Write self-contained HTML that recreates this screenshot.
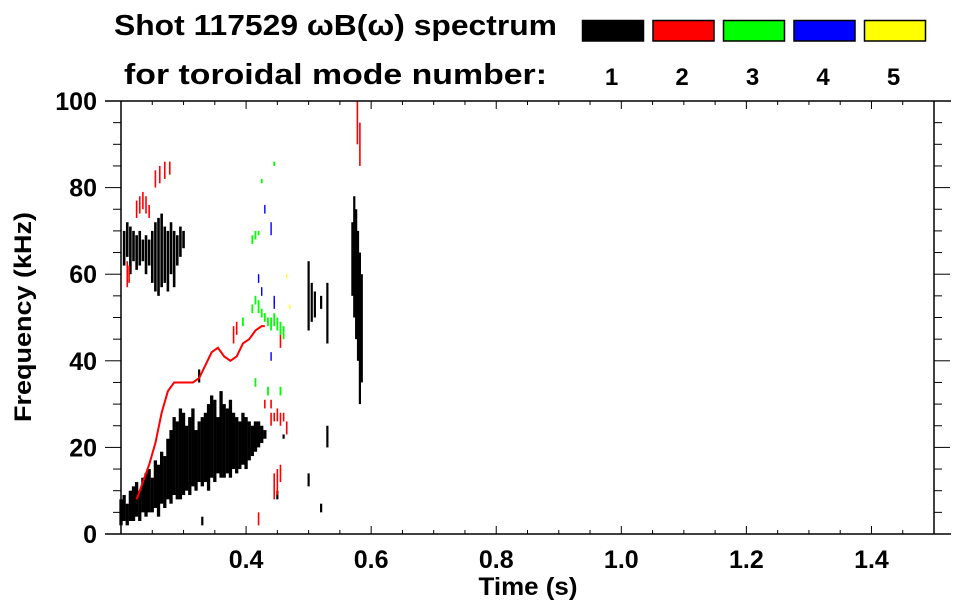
<!DOCTYPE html>
<html><head><meta charset="utf-8"><style>
html,body{margin:0;padding:0;background:#fff;}
svg{display:block;font-family:"Liberation Sans",Arial,sans-serif;font-weight:bold;}
</style></head><body>
<svg id="chart" width="963" height="615" viewBox="0 0 963 615" xmlns="http://www.w3.org/2000/svg">
<text x="114" y="35" font-size="29" textLength="443" lengthAdjust="spacingAndGlyphs">Shot 117529 ωB(ω) spectrum</text>
<text x="124" y="84" font-size="29" textLength="423" lengthAdjust="spacingAndGlyphs">for toroidal mode number:</text>
<g id="legend"></g>
<g id="marks"></g>
<g id="axes"></g>
<text transform="translate(31,317) rotate(-90)" text-anchor="middle" font-size="24" textLength="210" lengthAdjust="spacingAndGlyphs">Frequency (kHz)</text>
<text x="528" y="595" text-anchor="middle" font-size="25" textLength="99" lengthAdjust="spacingAndGlyphs">Time (s)</text>
</svg>
<script>
// ---- data ----
var modeNumbers = [1,2,3,4,5];
var modeColors = ["#000000","#ff0000","#00ff00","#0000ff","#ffff00"];
var xTicks = [0.4,0.6,0.8,1.0,1.2,1.4];
var xTickLabels = ["0.4","0.6","0.8","1.0","1.2","1.4"];
var yTicks = [0,20,40,60,80,100];
var yTickLabels = ["0","20","40","60","80","100"];

// mode 1 low band (time s, freq low/high kHz)
var n1LowT = [0.200,0.205,0.210,0.215,0.220,0.225,0.230,0.235,0.240,0.245,0.250,0.255,0.260,0.265,0.270,0.275,0.280,0.285,0.290,0.295,0.300,0.305,0.310,0.315,0.320,0.325,0.330,0.335,0.340,0.345,0.350,0.355,0.360,0.365,0.370,0.375,0.380,0.385,0.390,0.395,0.400,0.405,0.410,0.415,0.420,0.425,0.430];
var n1LowLo = [2,3,2,3,3,4,3,5,4,5,5,6,4,7,6,8,7,9,8,8,9,10,9,11,10,12,11,12,10,13,12,14,13,13,14,13,15,14,15,16,15,17,18,19,20,21,22];
var n1LowHi = [8,9,7,10,11,12,10,13,14,15,13,17,16,19,18,22,24,27,26,29,28,25,27,29,24,26,27,28,30,32,31,27,33,30,29,31,28,27,26,28,27,26,25,26,26,25,24];
// mode 1 upper cluster
var n1UpT = [0.205,0.210,0.215,0.220,0.225,0.230,0.235,0.240,0.245,0.250,0.255,0.260,0.265,0.270,0.275,0.280,0.285,0.290,0.295,0.300];
var n1UpLo = [62,64,60,63,61,62,63,60,62,58,56,55,57,58,56,60,57,62,64,66];
var n1UpHi = [70,72,71,70,69,70,68,69,68,70,72,73,74,71,70,72,70,69,71,70];
// mode 1 later bursts
var n1LateT = [0.500,0.505,0.510,0.520,0.530,0.530,0.570,0.573,0.576,0.579,0.582,0.585,0.500,0.520,0.460,0.450,0.330,0.325];
var n1LateLo = [47,49,50,52,44,20,55,50,45,40,30,35,11,5,22,8,2,35];
var n1LateHi = [63,58,56,55,58,25,72,78,75,70,65,60,14,7,23,10,4,38];

// mode 2 main chirping line
var n2LineT = [0.225,0.235,0.245,0.255,0.265,0.275,0.285,0.300,0.315,0.325,0.335,0.345,0.355,0.365,0.375,0.385,0.395,0.405,0.415,0.425,0.430];
var n2LineF = [8,12,16,21,28,33,35,35,35,36,39,42,43,41,40,41,44,45,47,48,48];
// mode 2 blobs
var n2BlobT = [0.210,0.213,0.225,0.230,0.235,0.240,0.245,0.255,0.262,0.270,0.278,0.440,0.445,0.450,0.455,0.460,0.465,0.445,0.450,0.455,0.420,0.578,0.582,0.385,0.380,0.430,0.440,0.455];
var n2BlobLo = [57,58,73,74,75,74,73,80,81,82,83,25,26,26,25,26,23,8,9,12,2,90,85,46,44,29,29,43];
var n2BlobHi = [63,62,77,78,79,78,76,84,85,86,86,28,28,29,28,28,26,14,15,16,5,100,95,49,48,31,31,46];
// mode 3
var n3T = [0.410,0.415,0.420,0.410,0.415,0.420,0.425,0.430,0.435,0.440,0.445,0.450,0.455,0.460,0.445,0.425,0.415,0.435,0.455,0.395];
var n3Lo = [67,68,69,51,53,51,50,49,48,47,48,47,46,45,85,81,34,32,32,48];
var n3Hi = [69,70,70,53,55,54,52,51,50,50,51,50,49,48,86,82,36,34,34,50];
// mode 4
var n4T = [0.430,0.440,0.445,0.420,0.445,0.440,0.425];
var n4Lo = [74,69,53,58,52,40,55];
var n4Hi = [76,72,55,60,54,42,57];
// mode 5
var n5T = [0.465,0.470];
var n5Lo = [59,52];
var n5Hi = [60,53];

// ---- scales ----
var X0=121, X1=934, Y0=534, Y1=101, TMIN=0.2, TMAX=1.5, FMIN=0, FMAX=100;
function xs(t){return X0+(t-TMIN)/(TMAX-TMIN)*(X1-X0);}
function ys(f){return Y0-(f-FMIN)/(FMAX-FMIN)*(Y0-Y1);}
var NS="http://www.w3.org/2000/svg";
function mk(tag,attrs,parent){var e=document.createElementNS(NS,tag);for(var k in attrs)e.setAttribute(k,attrs[k]);parent.appendChild(e);return e;}

var marks=document.getElementById('marks');
function streaks(T,Lo,Hi,color,w,name){
  for(var i=0;i<T.length;i++){
    var r=mk('rect',{x:xs(T[i])-w/2,y:ys(Hi[i]),width:w,height:Math.max(1,ys(Lo[i])-ys(Hi[i])),fill:color},marks);
    
    
  }
}
streaks(n1LowT,n1LowLo,n1LowHi,modeColors[0],3.3,'mode1-low-band-streak');
streaks(n1UpT,n1UpLo,n1UpHi,modeColors[0],2.6,'mode1-upper-streak');
streaks(n1LateT,n1LateLo,n1LateHi,modeColors[0],2.2,'mode1-burst-streak');
streaks(n2BlobT,n2BlobLo,n2BlobHi,modeColors[1],1.6,'mode2-streak');
streaks(n3T,n3Lo,n3Hi,modeColors[2],1.8,'mode3-streak');
streaks(n4T,n4Lo,n4Hi,modeColors[3],1.4,'mode4-streak');
streaks(n5T,n5Lo,n5Hi,modeColors[4],1.2,'mode5-streak');
var pts=[];for(var i=0;i<n2LineT.length;i++)pts.push(xs(n2LineT[i])+','+ys(n2LineF[i]));
var pl=mk('polyline',{points:pts.join(' '),fill:'none',stroke:modeColors[1],'stroke-width':2},marks);



// ---- axes ----
var ax=document.getElementById('axes');
mk('line',{x1:105,y1:Y1,x2:951,y2:Y1,stroke:'#000','stroke-width':1.5},ax);
mk('line',{x1:105,y1:Y0,x2:951,y2:Y0,stroke:'#000','stroke-width':1.5},ax);
mk('line',{x1:X0,y1:Y1,x2:X0,y2:Y0,stroke:'#000','stroke-width':1.5},ax);
mk('line',{x1:X1,y1:Y1,x2:X1,y2:Y0,stroke:'#000','stroke-width':1.5},ax);
for(var k=1;k<26;k++){
  var t=0.2+k*0.05, x=xs(t), major=(k%4===0);
  var L=major?8:4;
  mk('line',{x1:x,y1:Y0,x2:x,y2:Y0-L,stroke:'#000','stroke-width':1},ax);
  mk('line',{x1:x,y1:Y1,x2:x,y2:Y1+L,stroke:'#000','stroke-width':1},ax);
}
for(var f=5;f<100;f+=5){
  var y=ys(f), L2=(f%20===0)?16:8;
  mk('line',{x1:X0,y1:y,x2:X0-L2,y2:y,stroke:'#000','stroke-width':1},ax);
  mk('line',{x1:X1,y1:y,x2:X1+L2,y2:y,stroke:'#000','stroke-width':1},ax);
}
for(var i=0;i<xTicks.length;i++){
  var tx=mk('text',{x:xs(xTicks[i]),y:568,'text-anchor':'middle','font-size':25},ax);
  tx.textContent=xTickLabels[i];
  
  
}
for(var i=0;i<yTicks.length;i++){
  var ty=mk('text',{x:97,y:ys(yTicks[i])+9,'text-anchor':'end','font-size':25},ax);
  ty.textContent=yTickLabels[i];
  
  
}

// ---- legend ----
var lg=document.getElementById('legend');
for(var i=0;i<modeNumbers.length;i++){
  var lx=582.5+i*70.5;
  var b=mk('rect',{x:lx,y:20.5,width:61,height:20.5,fill:modeColors[i],stroke:'#000','stroke-width':1.5},lg);
  
  
  var lt=mk('text',{x:lx+29,y:85,'text-anchor':'middle','font-size':24},lg);
  lt.textContent=String(modeNumbers[i]);
  
  
}
</script>
</body></html>
